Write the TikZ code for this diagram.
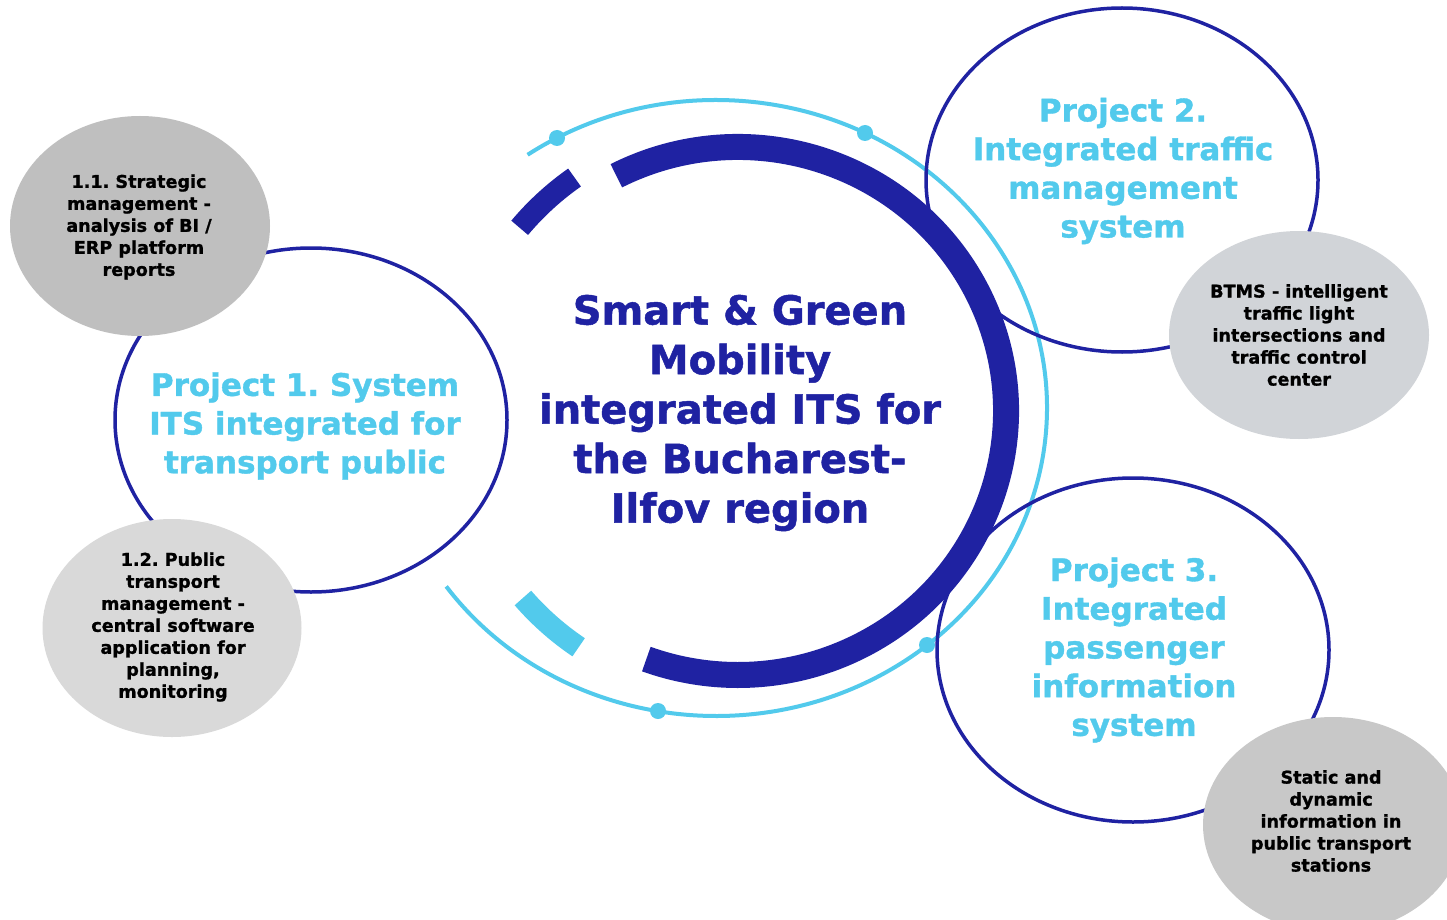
\documentclass[tikz,border=0pt]{standalone}
\usepackage{fontspec}
\setmainfont{DejaVu Sans}[BoldFeatures={FakeBold=1.2}]
\usetikzlibrary{shapes.geometric}
\frenchspacing
\definecolor{navy}{HTML}{1F22A2}
\definecolor{sky}{HTML}{52CAEC}
\definecolor{grayA}{HTML}{BFBFBF}
\definecolor{grayB}{HTML}{D9D9D9}
\definecolor{grayC}{HTML}{D1D4D8}
\definecolor{grayD}{HTML}{C8C8C8}
\begin{document}
\begin{tikzpicture}[x=1pt,y=-1pt,
  proj/.style={ellipse, draw=navy, line width=3.5pt, minimum width=392pt, minimum height=344pt, inner sep=0pt},
  sub/.style={ellipse, inner sep=0pt},
  title/.style={font=\fontsize{40}{49.5}\selectfont\bfseries, text=navy, align=center, inner sep=0pt},
  ptext/.style={font=\fontsize{31}{38.7}\selectfont\bfseries, text=sky, align=center, inner sep=0pt},
  stext/.style={font=\fontsize{17.6}{22}\selectfont\bfseries, text=black, align=center, inner sep=0pt},
  dotnode/.style={circle, fill=sky, minimum size=16pt, inner sep=0pt}]
\useasboundingbox (0,0) rectangle (1447,920);
\fill[white] (0,0) rectangle (1447,920);

% outer thin light ring
\draw[sky, line width=4pt] (716,408) ++(-124.7:331 and 308)
  arc[start angle=-124.7, end angle=144.6, x radius=331, y radius=308];
% main thick dark ring
\draw[navy, line width=26pt] (738,411) ++(-117:268 and 264)
  arc[start angle=-117, end angle=110, x radius=268, y radius=264];
% short dashes
\draw[navy, line width=22pt] (738,411) ++(-125:285)
  arc[start angle=-125, end angle=-140, radius=285];
\draw[sky, line width=22pt] (738,411) ++(124:285)
  arc[start angle=124, end angle=139, radius=285];
% dots on light ring
\node[dotnode] (d1) at (557,138) {};
\node[dotnode] (d2) at (865,133) {};
\node[dotnode] (d3) at (927,645) {};
\node[dotnode] (d4) at (658,711) {};

% project circles
\node[proj] (p1) at (311,420) {};
\node[proj] (p2) at (1122,180) {};
\node[proj] (p3) at (1133,650) {};

% sub ellipses
\node[sub, fill=grayA, minimum width=260pt, minimum height=220pt] (s11) at (140,226) {};
\node[sub, fill=grayB, minimum width=259pt, minimum height=218pt] (s12) at (172,628) {};
\node[sub, fill=grayC, minimum width=260pt, minimum height=208pt] (s2) at (1299,335) {};
\node[sub, fill=grayD, minimum width=260pt, minimum height=216pt] (s3) at (1333,825) {};

% texts
\node[title] (tc) at (740,413) {Smart \& Green\\Mobility\\integrated ITS for\\the Bucharest-\\Ilfov region};
\node[ptext] (t1) at (305,426) {Project 1. System\\ITS integrated for\\transport public};
\node[ptext] (t2) at (1123,171) {Project 2.\\Integrated traffic\\management\\system};
\node[ptext] (t3) at (1134,650) {Project 3.\\Integrated\\passenger\\information\\system};
\node[stext] (u11) at (139,227) {1.1. Strategic\\management -\\analysis of BI /\\ERP platform\\reports};
\node[stext] (u12) at (173,627) {1.2. Public\\transport\\management -\\central software\\application for\\planning,\\monitoring};
\node[stext] (u2) at (1299,335) {BTMS - intelligent\\traffic light\\intersections and\\traffic control\\center};
\node[stext] (u3) at (1331,821) {Static and\\dynamic\\information in\\public transport\\stations};
\end{tikzpicture}
\end{document}
